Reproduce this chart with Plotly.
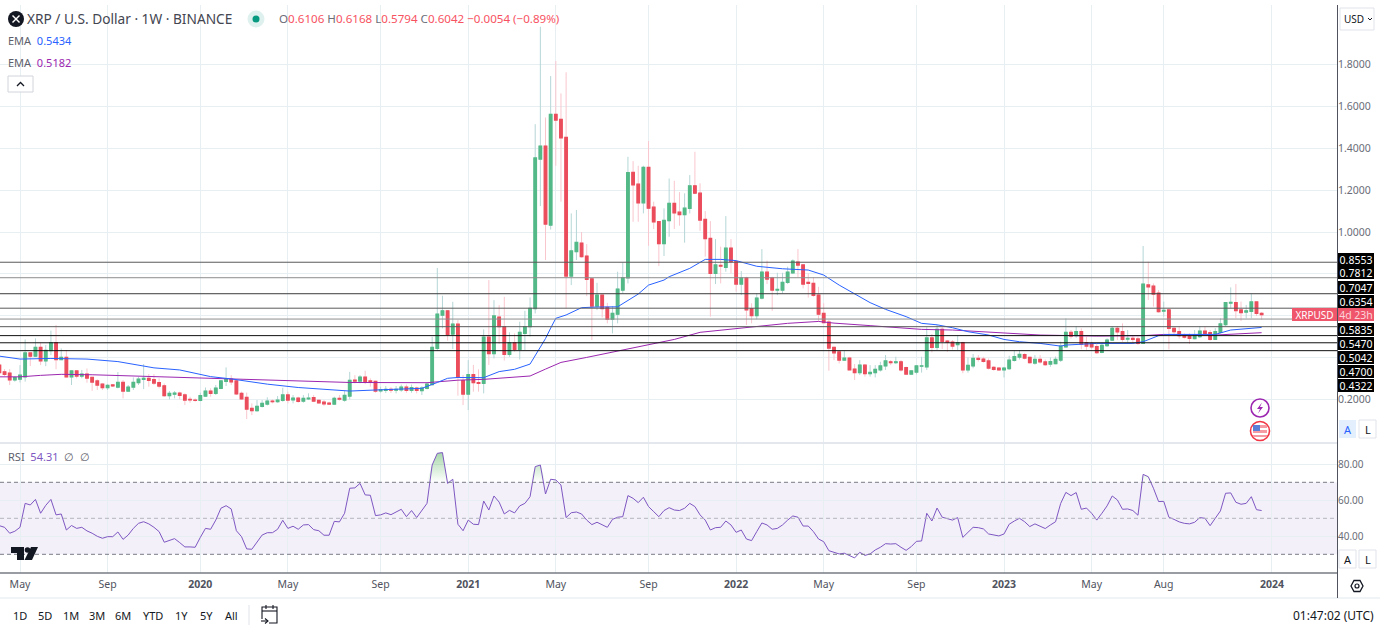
import numpy as np
import pandas as pd
import plotly.graph_objects as go

W, H = 1380, 627
FONT = "Noto Sans"
FIRST_WEEK = pd.Timestamp("2019-04-08")

opens = [.363,.331,.325,.292,.296,.307,.421,.406,.448,.384,
 .433,.47,.39,.40,.307,.335,.311,.32,.304,.287,
 .272,.255,.268,.258,.28,.239,.258,.279,.295,.30,
 .293,.279,.264,.217,.224,.229,.22,.199,.196,.194,
 .215,.239,.228,.252,.285,.296,.287,.228,.209,.156,
 .145,.166,.177,.191,.188,.194,.22,.197,.205,.191,
 .202,.207,.194,.186,.181,.177,.204,.196,.215,.291,
 .287,.306,.287,.285,.24,.242,.247,.243,.245,.258,
 .242,.253,.241,.252,.27,.443,.602,.623,.512,.559,
 .289,.225,.317,.279,.276,.497,.418,.593,.547,.415,
 .47,.438,.515,.547,.634,1.349,1.411,1.033,1.563,1.539,
 1.453,.789,.906,.947,.885,.776,.646,.698,.639,.583,
 .607,.722,.781,1.285,1.229,1.14,1.309,1.119,1.05,.944,
 1.054,1.137,1.095,1.083,1.113,1.221,1.186,1.06,.969,.802,
 .84,.831,.923,.858,.751,.78,.633,.6,.684,.808,
 .78,.722,.722,.759,.805,.856,.842,.759,.754,.698,
 .61,.569,.448,.426,.387,.397,.344,.327,.363,.322,
 .327,.341,.359,.379,.375,.379,.351,.32,.33,.358,
 .355,.493,.448,.534,.478,.473,.461,.47,.34,.359,
 .395,.392,.383,.352,.349,.341,.346,.386,.402,.413,
 .4,.373,.39,.378,.368,.37,.387,.45,.52,.504,
 .523,.47,.467,.451,.424,.456,.483,.539,.523,.488,
 .491,.488,.467,.747,.741,.707,.622,.627,.539,.523,
 .507,.501,.49,.499,.526,.518,.486,.52,.557,.66,
 .662,.627,.617,.62,.665,.6106]
highs = [.37,.344,.344,.31,.363,.486,.422,.491,.47,.459,
 .528,.555,.443,.435,.335,.339,.34,.347,.307,.295,
 .276,.272,.272,.33,.292,.268,.304,.307,.368,.32,
 .32,.30,.275,.239,.239,.236,.228,.212,.204,.231,
 .256,.252,.268,.29,.352,.315,.296,.236,.232,.18,
 .196,.196,.209,.199,.215,.255,.236,.22,.212,.22,
 .228,.22,.199,.196,.188,.212,.22,.24,.331,.315,
 .315,.336,.30,.288,.26,.263,.258,.263,.27,.27,
 .27,.26,.262,.28,.499,.828,.695,.623,.666,.58,
 .316,.387,.364,.343,.534,.77,.674,.65,.69,.52,
 .515,.571,.623,.687,1.516,1.982,1.548,1.746,1.818,1.663,
 1.764,1.089,1.105,1.0,.942,.776,.757,.698,.661,.646,
 .81,.853,1.36,1.339,1.317,1.317,1.435,1.145,1.05,1.113,
 1.256,1.245,1.191,1.185,1.272,1.384,1.233,1.1,1.052,.966,
 .93,1.076,.966,.866,.813,.786,.659,.706,.918,.863,
 .786,.805,.805,.834,.869,.918,.847,.802,.783,.738,
 .659,.579,.451,.435,.432,.403,.368,.387,.368,.363,
 .363,.379,.411,.387,.403,.387,.356,.338,.363,.403,
 .544,.512,.555,.544,.483,.483,.507,.475,.40,.416,
 .411,.403,.395,.358,.352,.355,.408,.432,.435,.42,
 .403,.411,.411,.39,.40,.404,.475,.587,.531,.55,
 .539,.499,.475,.467,.47,.491,.55,.55,.563,.531,
 .507,.5,.933,.858,.754,.722,.667,.635,.544,.55,
 .515,.515,.531,.55,.547,.531,.54,.587,.662,.735,
 .751,.667,.651,.703,.665,.6168]
lows = [.32,.31,.268,.284,.28,.284,.359,.403,.363,.358,
 .411,.343,.387,.304,.268,.30,.30,.279,.24,.244,
 .244,.244,.258,.252,.204,.236,.244,.268,.248,.26,
 .268,.252,.212,.199,.204,.199,.172,.183,.188,.19,
 .212,.212,.22,.248,.263,.268,.22,.196,.105,.124,
 .14,.16,.17,.18,.183,.188,.18,.18,.183,.183,
 .196,.186,.18,.167,.174,.172,.193,.188,.199,.276,
 .276,.272,.26,.231,.231,.23,.23,.228,.236,.231,
 .231,.228,.22,.247,.266,.432,.539,.48,.44,.217,
 .172,.148,.236,.236,.228,.364,.395,.464,.385,.403,
 .427,.39,.435,.50,.61,1.124,.866,1.012,1.317,1.145,
 .634,.746,.866,.878,.693,.483,.626,.591,.563,.515,
 .563,.706,.754,1.049,1.049,1.089,.934,1.014,.837,.885,
 .977,1.014,1.03,.949,1.089,1.181,1.006,.882,.595,.751,
 .754,.81,.802,.714,.698,.555,.563,.582,.678,.751,
 .623,.698,.706,.751,.799,.783,.73,.686,.69,.571,
 .566,.336,.387,.371,.384,.34,.292,.316,.308,.308,
 .304,.332,.34,.363,.368,.332,.32,.319,.319,.327,
 .34,.424,.435,.44,.427,.438,.435,.324,.327,.348,
 .38,.375,.342,.336,.336,.304,.34,.38,.39,.39,
 .37,.365,.37,.36,.355,.368,.378,.448,.49,.494,
 .439,.436,.44,.416,.42,.45,.48,.483,.475,.471,
 .464,.46,.464,.675,.643,.614,.595,.438,.503,.49,
 .49,.464,.487,.494,.502,.48,.483,.515,.55,.635,
 .587,.574,.587,.587,.598,.5794]
closes = [.327,.319,.292,.303,.315,.421,.406,.448,.384,.433,
 .47,.39,.40,.307,.335,.311,.32,.301,.282,.268,
 .255,.266,.264,.28,.239,.258,.28,.296,.30,.29,
 .277,.263,.217,.228,.229,.218,.196,.197,.194,.217,
 .239,.228,.253,.287,.296,.283,.226,.202,.153,.145,
 .166,.18,.191,.188,.196,.22,.196,.205,.19,.204,
 .205,.191,.183,.178,.177,.204,.2,.218,.29,.287,
 .306,.282,.282,.239,.245,.247,.243,.247,.258,.242,
 .255,.242,.253,.272,.448,.607,.623,.51,.559,.305,
 .225,.317,.279,.276,.497,.418,.598,.547,.415,.47,
 .438,.52,.547,.634,1.354,1.411,1.038,1.563,1.536,1.451,
 .789,.909,.95,.882,.773,.646,.698,.634,.583,.611,
 .727,.781,1.284,1.226,1.14,1.309,1.114,1.049,.944,1.055,
 1.137,1.092,1.083,1.114,1.221,1.186,1.057,.968,.802,.842,
 .837,.923,.858,.751,.78,.627,.6,.684,.808,.775,
 .722,.725,.759,.808,.86,.842,.751,.754,.697,.607,
 .566,.445,.422,.387,.397,.341,.327,.363,.322,.328,
 .343,.359,.383,.375,.379,.34,.32,.335,.359,.359,
 .493,.448,.534,.477,.473,.454,.47,.34,.362,.395,
 .391,.381,.349,.343,.34,.349,.387,.403,.414,.397,
 .375,.39,.379,.365,.38,.39,.454,.52,.502,.523,
 .464,.454,.451,.423,.458,.483,.539,.522,.486,.491,
 .486,.467,.751,.738,.703,.619,.625,.539,.523,.504,
 .497,.491,.507,.526,.515,.486,.523,.56,.662,.663,
 .624,.614,.623,.665,.611,.6042]
rsi_values = [45.9,45,41.7,42.8,45,58.3,57.4,60.5,52.8,57.2,
 60.5,51.9,52.4,43.5,46,44.4,45,43,41.7,40,
 38.9,39.8,39.8,42.4,38.3,40.7,44.4,47.2,48.1,46.9,
 45,42.6,36.7,37.6,38.7,36.5,34.1,34.1,33.9,39.4,
 44.4,43.9,49,55.6,57,55.2,43.1,39.8,33,32.8,
 36.7,40.7,42,42,43.9,48.9,44.4,45.6,43.9,46.3,
 46.5,43.7,43.1,40.6,40.6,48.3,48,52.8,66.7,66.9,
 69.4,63,62.8,51.5,51.9,53,52,53.3,55,50.9,
 54.3,50.4,54.3,58.3,79.6,86.1,86.5,69.4,71.7,46.7,
 43.1,49,46.7,46.5,59.6,54.6,62.4,59,52.4,54.4,
 53,56.9,58.3,62,78.7,79.6,63.5,71.7,71.3,68.5,
 50.4,53.1,53.5,52.4,49,46.5,47.8,46.3,45,49.4,
 50.6,50.9,62.6,61.1,58.7,61.7,56.5,53.7,50.9,54.3,
 55.9,54.6,54.3,55.6,58.3,56.5,51.9,49,43.5,44.8,
 45,48.5,46.3,42.2,43.5,38.5,37.6,42.6,47.4,46.3,
 43.9,44.4,46.3,49,51.3,50.6,45.7,45.7,42.6,38.5,
 37,32,31.1,30.2,30.6,29.1,28,31.1,29.4,30.2,
 32.4,33.9,35.9,35.7,35.9,33.9,32.2,34.3,37.2,37.4,
 52.8,48.5,55.7,50.6,49.6,49,50.4,39.4,42.2,45,
 44.8,44.1,41.3,40.7,40.2,41.3,46.7,48.5,50,48.1,
 45.4,46.9,45.6,44.3,46.3,48.1,58.3,64.4,62.6,64.3,
 55,55.7,52.8,49,52.8,56.9,62.4,60.2,55,55.2,
 54.3,51.7,74.4,73.1,66.7,59.3,59.4,50.6,49.4,48,
 47.2,46.9,47.8,50.4,50,45.9,50,54.1,63.9,64.1,
 58.9,57.8,58.3,62,54.8,54.31]

ema_blue_weeks = [0,4,10,13,17,23,30,35,41,45,52,58,65,68,74,82,85,87,89,94,97,100,103,104,105,106,107,108,110,113,116,120,124,126,129,130,134,137,140,143,147,149,152,157,160,163,166,169,172,176,179,182,185,188,192,195,198,202,206,207,213,220,222,225,227,236,239,245]
ema_blue_values = [.406,.392,.395,.395,.392,.38,.35,.34,.308,.297,.272,.256,.243,.239,.245,.252,.28,.30,.304,.303,.332,.343,.368,.41,.45,.49,.54,.587,.603,.638,.641,.642,.703,.746,.77,.786,.826,.869,.869,.863,.836,.832,.824,.818,.794,.746,.706,.662,.63,.595,.563,.556,.542,.523,.507,.486,.475,.467,.454,.459,.467,.467,.475,.504,.51,.51,.531,.5434]
ema_purple_weeks = [0,4,8,12,18,31,45,58,68,83,89,94,103,106,109,114,119,123,126,131,136,143,146,153,159,162,169,179,185,192,198,202,213,222,226,236,245]
ema_purple_values = [.307,.307,.314,.319,.317,.307,.296,.287,.28,.279,.291,.295,.311,.344,.376,.40,.425,.443,.459,.486,.52,.539,.545,.563,.572,.564,.552,.534,.531,.52,.51,.507,.502,.504,.51,.507,.5182]

level_values = [.8553,.7812,.7047,.6354,.5835,.5470,.5042,.4700,.4322]
level_labels = ["0.8553","0.7812","0.7047","0.6354","0.5835","0.5470","0.5042","0.4700","0.4322"]
price_ticks = [.2,.4,.6,.8,1.0,1.2,1.4,1.6,1.8]
price_tick_labels = ["0.2000","","","","1.0000","1.2000","1.4000","1.6000","1.8000"]
rsi_ticks = [40,60,80]
rsi_tick_labels = ["40.00","60.00","80.00"]
time_ticks = ["2019-05-06","2019-09-02","2020-01-06","2020-05-04","2020-09-07","2021-01-04","2021-05-03",
              "2021-09-06","2022-01-03","2022-05-02","2022-09-05","2023-01-02","2023-05-01","2023-08-07","2024-01-01"]
time_labels = ["May","Sep","<b>2020</b>","May","Sep","<b>2021</b>","May","Sep","<b>2022</b>","May","Sep","<b>2023</b>","May","Aug","<b>2024</b>"]

for name, arr in [("h", highs), ("l", lows), ("c", closes), ("r", rsi_values)]:
    if len(arr) != len(opens):
        raise SystemExit(f"length {name} {len(arr)} vs {len(opens)}")

UP, DN = "#53b987", "#eb4d5c"
UPW, DNW = "#b5d6d6", "#f9c6ce"
GRID = "#e8eff3"
LEVEL_COLORS = ["#5a5a5a", "#8c8c8c", "#3c3c3c", "#5a5a5a", "#8c8c8c", "#5a5a5a", "#111111", "#111111", "#111111"]

dates = [FIRST_WEEK + pd.Timedelta(days=7 * i) for i in range(len(opens))]
ema_blue_dates = [FIRST_WEEK + pd.Timedelta(days=7 * i) for i in ema_blue_weeks]
ema_purple_dates = [FIRST_WEEK + pd.Timedelta(days=7 * i) for i in ema_purple_weeks]
body_hi = np.maximum(opens, closes)
body_lo = np.minimum(opens, closes)

PLOT_R = 1337
PX_WEEK = 5.152
X0 = pd.Timestamp("2019-05-06") - pd.Timedelta(days=7 * 20 / PX_WEEK)
X1 = X0 + pd.Timedelta(days=7 * PLOT_R / PX_WEEK)


def px(x):
    return x / W


def py(y):
    return 1 - y / H


fig = go.Figure()
fig.add_trace(go.Candlestick(x=dates, open=opens, high=highs, low=lows, close=closes,
                             increasing=dict(line=dict(color=UPW, width=1), fillcolor=UPW),
                             decreasing=dict(line=dict(color=DNW, width=1), fillcolor=DNW),
                             xaxis="x", yaxis="y", hoverinfo="skip"))
fig.add_trace(go.Candlestick(x=dates, open=opens, high=body_hi, low=body_lo, close=closes,
                             increasing=dict(line=dict(color=UP, width=1.3), fillcolor=UP),
                             decreasing=dict(line=dict(color=DN, width=1.3), fillcolor=DN),
                             xaxis="x", yaxis="y", hoverinfo="skip"))
fig.add_trace(go.Scatter(x=ema_purple_dates, y=ema_purple_values, mode="lines",
                         line=dict(color="#9c27b0", width=1), xaxis="x", yaxis="y", hoverinfo="skip"))
fig.add_trace(go.Scatter(x=ema_blue_dates, y=ema_blue_values, mode="lines",
                         line=dict(color="#2962ff", width=1), xaxis="x", yaxis="y", hoverinfo="skip"))

# RSI pane: overbought gradient, then the line
fig.add_trace(go.Scatter(x=dates, y=[70] * len(dates), mode="lines", line=dict(width=0),
                         xaxis="x2", yaxis="y2", hoverinfo="skip"))
fig.add_trace(go.Scatter(x=dates, y=np.maximum(rsi_values, 70), mode="lines", line=dict(width=0),
                         fill="tonexty",
                         fillgradient=dict(type="vertical", start=92, stop=70,
                                           colorscale=[[0, "rgba(76,175,80,0.65)"], [1, "rgba(76,175,80,0)"]]),
                         xaxis="x2", yaxis="y2", hoverinfo="skip"))
fig.add_trace(go.Scatter(x=dates, y=rsi_values, mode="lines", line=dict(color="#7e57c2", width=1),
                         xaxis="x2", yaxis="y2", hoverinfo="skip"))

shapes = []


def hline_px(y, x0=0, x1=PLOT_R, color="#e0e3eb", width=1):
    shapes.append(dict(type="line", xref="paper", yref="paper", x0=px(x0), x1=px(x1), y0=py(y), y1=py(y),
                       line=dict(color=color, width=width), layer="above"))


def vline_px(x, y0, y1, color="#50535e", width=1):
    shapes.append(dict(type="line", xref="paper", yref="paper", x0=px(x), x1=px(x), y0=py(y0), y1=py(y1),
                       line=dict(color=color, width=width), layer="above"))


def box_px(x0, y0, x1, y1, fill="rgba(0,0,0,0)", line="#e0e3eb", width=1):
    shapes.append(dict(type="rect", xref="paper", yref="paper", x0=px(x0), x1=px(x1), y0=py(y1), y1=py(y0),
                       fillcolor=fill, line=dict(color=line, width=width), layer="above"))


def circle_px(cx, cy, r, fill="rgba(0,0,0,0)", line="rgba(0,0,0,0)", width=1):
    shapes.append(dict(type="circle", xref="paper", yref="paper", x0=px(cx - r), x1=px(cx + r),
                       y0=py(cy + r), y1=py(cy - r), fillcolor=fill,
                       line=dict(color=line, width=width), layer="above"))


def path_px(points, fill="rgba(0,0,0,0)", line="rgba(0,0,0,0)", width=1, close=True):
    d = "M " + " L ".join(f"{px(a):.5f} {py(b):.5f}" for a, b in points) + (" Z" if close else "")
    shapes.append(dict(type="path", xref="paper", yref="paper", path=d, fillcolor=fill,
                       line=dict(color=line, width=width), layer="above"))


# RSI band and dashed guides
shapes.append(dict(type="rect", xref="x2", yref="y2", x0=X0, x1=X1, y0=30, y1=70,
                   fillcolor="rgba(126,87,194,0.09)", line=dict(width=0), layer="below"))
for v, col in [(70, "#787b86"), (50, "#b2b5be"), (30, "#787b86")]:
    shapes.append(dict(type="line", xref="paper", yref="y2", x0=0, x1=px(PLOT_R), y0=v, y1=v,
                       line=dict(color=col, width=1, dash="4px,3px"), layer="above"))

# key levels (use the price scale)
for v, col in zip(level_values, LEVEL_COLORS):
    shapes.append(dict(type="line", xref="paper", yref="y", x0=0, x1=px(PLOT_R), y0=v, y1=v,
                       line=dict(color=col, width=1), layer="above"))

# chrome rules
hline_px(443, width=2, color="#e4e7ee")
hline_px(573, color="#787b86", width=1.5)
hline_px(598, x1=W, color="#edf0f4", width=1.5)
vline_px(PLOT_R + .5, 5, 598)

# buttons
box_px(8, 76, 33, 92, line="#d1d4dc", fill="#ffffff")
box_px(1340, 8, 1374, 30, line="#e0e3eb", fill="#ffffff")
box_px(1339, 420, 1356, 438, line="rgba(0,0,0,0)", fill="#e3effd")
box_px(1359, 420, 1376, 438, line="#e0e3eb", fill="#ffffff")
box_px(1339, 550, 1356, 568, line="#e0e3eb", fill="#ffffff")
box_px(1359, 550, 1376, 568, line="#e0e3eb", fill="#ffffff")
path_px([(17, 86), (20.5, 82.5), (24, 86)], line="#131722", width=1.3, close=False)
path_px([(1368, 18), (1370, 20), (1372, 18)], line="#131722", width=1, close=False)

# symbol logo and live dot
circle_px(16, 19, 8, fill="#131722")
path_px([(12.5, 15.5), (19.5, 22.5)], line="#ffffff", width=1.4, close=False)
path_px([(19.5, 15.5), (12.5, 22.5)], line="#ffffff", width=1.4, close=False)
circle_px(256, 19, 8.5, fill="#dff1ee")
circle_px(256, 19, 3.5, fill="#089981")

# event markers
circle_px(1260, 408, 9, fill="#ffffff", line="#9c27b0", width=1.6)
path_px([(1262, 402.5), (1257, 409), (1260, 409), (1258, 413.5), (1263, 407), (1260, 407)], fill="#9c27b0")
circle_px(1260, 431, 9.5, fill="#ffffff", line="#f23645", width=1.6)
box_px(1253, 425, 1267, 437, fill="#f59aa3", line="rgba(0,0,0,0)")
box_px(1253, 425, 1260, 431, fill="#5b7fd6", line="rgba(0,0,0,0)")
box_px(1260, 428, 1267, 430, fill="#ffffff", line="rgba(0,0,0,0)")
box_px(1253, 433, 1267, 435, fill="#ffffff", line="rgba(0,0,0,0)")

# TradingView mark
path_px([(11, 547), (24, 547), (24, 560), (17, 560), (17, 553), (11, 553)], fill="#131722")
circle_px(27.5, 550, 2.8, fill="#131722")
path_px([(31, 547), (38, 547), (32, 560), (24.5, 560)], fill="#131722")

# settings hexagon
path_px([(1351, 586), (1354, 580.5), (1360, 580.5), (1363, 586), (1360, 591.5), (1354, 591.5)],
        line="#131722", width=1.3)
circle_px(1357, 586, 2, line="#131722", width=1.2)

# calendar icon + toolbar separator
vline_px(249, 605, 625, color="#e0e3eb")
path_px([(262, 619), (262, 607), (277, 607), (277, 623), (269, 623)], line="#131722", width=1.1, close=False)
path_px([(262, 611), (277, 611)], line="#131722", width=1.1, close=False)
path_px([(266, 605), (266, 609)], line="#131722", width=1.1, close=False)
path_px([(273, 605), (273, 609)], line="#131722", width=1.1, close=False)
path_px([(261, 621), (268, 621)], line="#131722", width=1.1, close=False)
path_px([(265, 618.5), (268, 621), (265, 623.5)], line="#131722", width=1.1, close=False)

# tag boxes on the price axis
tag_y = [259, 273, 287, 301, 329, 343, 357, 371, 385]
annotations = []


def text_px(x, y, text, size=12, color="#131722", anchor="left", bg=None, w=None, h=None):
    d = dict(xref="paper", yref="paper", x=px(x), y=py(y), text=text, showarrow=False,
             xanchor=anchor, yanchor="middle", font=dict(family=FONT, size=size, color=color),
             borderpad=0, borderwidth=0)
    if bg:
        d["bgcolor"] = bg
    if w:
        d["width"] = w
    if h:
        d["height"] = h
    annotations.append(d)


for lab, y in zip(level_labels, tag_y):
    text_px(1355.5, y, lab, size=10.5, color="#ffffff", anchor="center", bg="#000000", w=36, h=13)
text_px(1314.5, 314.5, "XRPUSD", size=10, color="#ffffff", anchor="center", bg="#f0566b", w=45, h=13)
text_px(1355.5, 314.5, "4d 23h", size=10.5, color="#fbd5da", anchor="center", bg="#f0566b", w=36, h=13)

RED = "#f7525f"
text_px(27, 19, "XRP / U.S. Dollar · 1W · BINANCE", size=13.7, color="#434651")
text_px(279, 19,
        f'<span style="color:#6a6d78">O</span>0.6106 <span style="color:#6a6d78">H</span>0.6168 '
        f'<span style="color:#6a6d78">L</span>0.5794 <span style="color:#6a6d78">C</span>0.6042 '
        f'−0.0054 (−0.89%)', size=11.6, color=RED)
text_px(8, 41, 'EMA  <span style="color:#2962ff">0.5434</span>', size=11, color="#5d606b")
text_px(8, 62, 'EMA  <span style="color:#9c27b0">0.5182</span>', size=11, color="#5d606b")
text_px(8, 457, 'RSI  <span style="color:#7e57c2">54.31</span>  ∅  ∅', size=11, color="#5d606b")
text_px(1354, 19, "USD", size=10, color="#131722", anchor="center")
text_px(1347.5, 429, "A", size=11, color="#2962ff", anchor="center")
text_px(1367.5, 429, "L", size=11, color="#131722", anchor="center")
text_px(1347.5, 559, "A", size=11, color="#131722", anchor="center")
text_px(1367.5, 559, "L", size=11, color="#131722", anchor="center")
for lab, x in zip(["1D", "5D", "1M", "3M", "6M", "YTD", "1Y", "5Y", "All"],
                  [20, 45, 71, 97, 123, 153, 181, 206, 231]):
    text_px(x, 615, lab, size=11, color="#131722", anchor="center")
text_px(1374, 615, "01:47:02 (UTC)", size=12, color="#131722", anchor="right")

tick_font = dict(family=FONT, size=10.5, color="#6a6d78")
rsi_tick_font = dict(family=FONT, size=10, color="#6a6d78")
fig.update_layout(
    width=W, height=H, margin=dict(l=0, r=0, t=0, b=0), paper_bgcolor="#ffffff", plot_bgcolor="#ffffff",
    showlegend=False, hovermode=False, shapes=shapes, annotations=annotations, dragmode=False,
    xaxis=dict(domain=[0, PLOT_R / W], anchor="y", range=[X0, X1], type="date", tickvals=time_ticks,
               ticktext=[""] * len(time_ticks), showgrid=True, gridcolor=GRID, gridwidth=1, zeroline=False,
               rangeslider=dict(visible=False), showline=False, ticks=""),
    yaxis=dict(domain=[py(443), py(5)], range=[1 - (443 - 232) / 209, 1 + (232 - 5) / 209], side="right",
               anchor="x", tickvals=price_ticks, ticktext=price_tick_labels, showgrid=True, gridcolor=GRID,
               zeroline=False, tickfont=tick_font, ticks="", showline=False),
    xaxis2=dict(domain=[0, PLOT_R / W], anchor="y2", matches="x", type="date", tickvals=time_ticks,
                ticktext=time_labels, showgrid=True, gridcolor=GRID, zeroline=False, showline=False,
                tickfont=dict(family=FONT, size=10.5, color="#50535e"), ticks="outside", ticklen=1,
                tickcolor="rgba(0,0,0,0)", tickangle=0),
    yaxis2=dict(domain=[py(573), py(444)], range=[40 - (573 - 536.3) / 1.8, 80 + (464.3 - 444) / 1.8],
                side="right", anchor="x2", tickvals=rsi_ticks, ticktext=rsi_tick_labels, showgrid=True,
                gridcolor=GRID, zeroline=False, tickfont=rsi_tick_font, ticks="", showline=False),
)

fig.write_html("out.html", config=dict(displayModeBar=False, responsive=False),
               post_script="document.body.style.margin='0';document.body.style.overflow='hidden';")
